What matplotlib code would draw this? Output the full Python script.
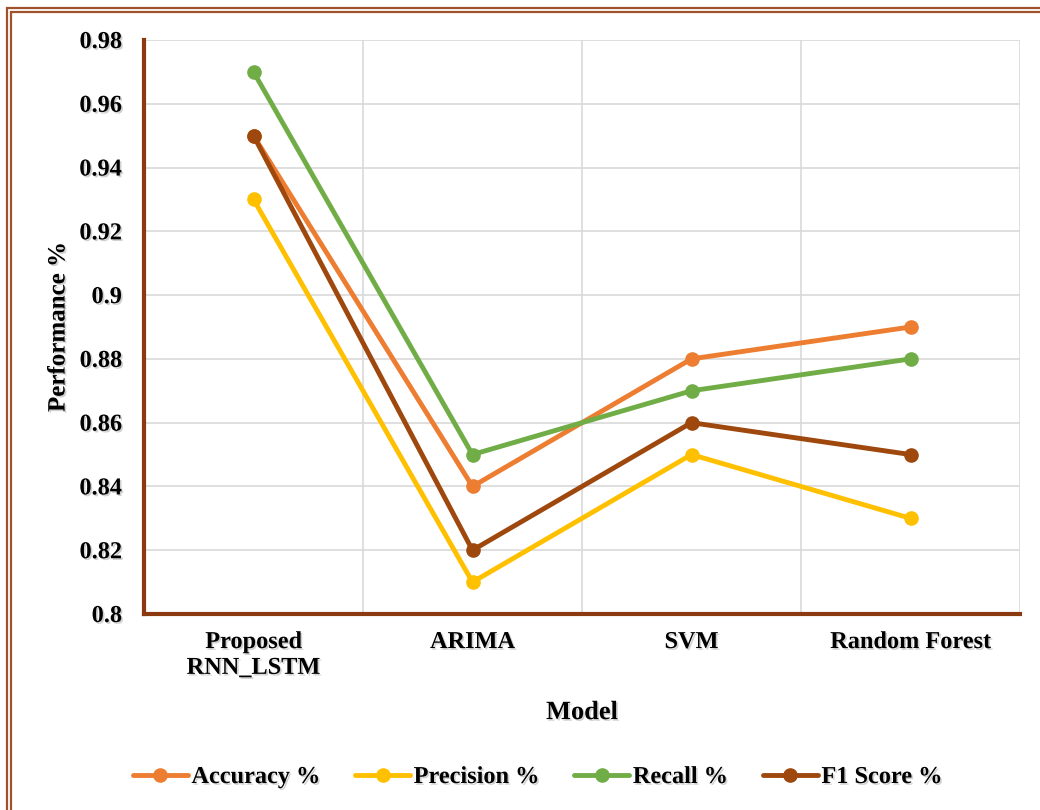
import matplotlib
matplotlib.use("Agg")
import matplotlib.pyplot as plt
import matplotlib.patheffects as pe
from matplotlib.patches import Rectangle

models = ["Proposed\nRNN_LSTM", "ARIMA", "SVM", "Random Forest"]
accuracy = [0.95, 0.84, 0.88, 0.89]
precision = [0.93, 0.81, 0.85, 0.83]
recall = [0.97, 0.85, 0.87, 0.88]
f1_score = [0.95, 0.82, 0.86, 0.85]
series_names = ["Accuracy %", "Precision %", "Recall %", "F1 Score %"]
yticks = [0.8, 0.82, 0.84, 0.86, 0.88, 0.9, 0.92, 0.94, 0.96, 0.98]
ytick_labels = ["0.8", "0.82", "0.84", "0.86", "0.88", "0.9", "0.92", "0.94", "0.96", "0.98"]

colors = ["#ED7D31", "#FFC000", "#70AD47", "#9E480E"]
brown = "#8B3A0F"

plt.rcParams['font.family'] = ['Liberation Serif', 'DejaVu Serif']
plt.rcParams['font.weight'] = 'bold'

shadow = [pe.withSimplePatchShadow(offset=(1.2, -1.2), shadow_rgbFace='#999999', alpha=0.45)]

fig = plt.figure(figsize=(10.4, 8.1), dpi=100)
ax = fig.add_axes([144/1040, 1 - 614/810, (1020-144)/1040, (614-40)/810])

# double border around figure (right and bottom beyond the canvas)
fig.patches.append(Rectangle((7/1040, -0.05), 1.1, (810-8)/810 + 0.05, transform=fig.transFigure,
                             fill=False, edgecolor="#A0522D", linewidth=1.6, zorder=0))
fig.patches.append(Rectangle((11/1040, -0.05), 1.1, (810-12)/810 + 0.05, transform=fig.transFigure,
                             fill=False, edgecolor="#A0522D", linewidth=1.6, zorder=0))

x = list(range(len(models)))
for vals, name, c in zip([accuracy, precision, recall, f1_score], series_names, colors):
    ax.plot(x, vals, color=c, linewidth=3.5, marker='o', markersize=9.5,
            solid_capstyle='round', label=name, zorder=3)

ax.set_xlim(-0.5, len(models) - 0.5)
ax.set_ylim(0.8, 0.98)
ax.set_yticks(yticks)
ax.set_yticklabels(ytick_labels)
ax.set_xticks(x)
ax.set_xticklabels(models, linespacing=1.3)
ax.set_xticks([i + 0.5 for i in range(-1, len(models))], minor=True)

ax.grid(True, axis='y', which='major', color='#D9D9D9', linewidth=1.2, zorder=0)
ax.grid(True, axis='x', which='minor', color='#D9D9D9', linewidth=1.2, zorder=0)
ax.tick_params(axis='both', which='both', length=0)
ax.tick_params(axis='y', pad=16, labelsize=17.5)
ax.tick_params(axis='x', pad=13, labelsize=17.5)

for s in ['top', 'right']:
    ax.spines[s].set_visible(False)
for s in ['left', 'bottom']:
    ax.spines[s].set_color(brown)
    ax.spines[s].set_linewidth(3)

for lab in ax.get_xticklabels() + ax.get_yticklabels():
    lab.set_fontweight('bold')
    lab.set_path_effects(shadow)

ax.set_xlabel("Model", fontsize=19, fontweight='bold', labelpad=16, path_effects=shadow)
ax.set_ylabel("Performance %", fontsize=18, fontweight='bold', labelpad=7, path_effects=shadow)

leg = fig.legend(loc='center', bbox_to_anchor=(0.517, 1 - 777/810), ncol=4, frameon=False,
                 fontsize=17.5, handlelength=2.25, handletextpad=0.15, columnspacing=1.45)
for t in leg.get_texts():
    t.set_fontweight('bold')
    t.set_path_effects(shadow)

fig.savefig("out.png", dpi=100)
